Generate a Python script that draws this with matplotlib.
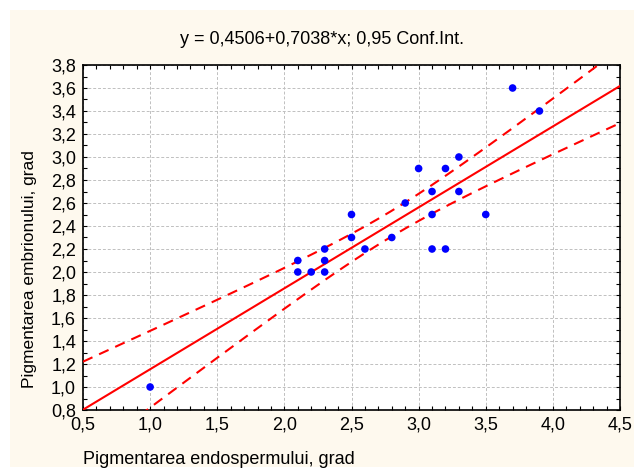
import matplotlib
matplotlib.use("Agg")
import matplotlib.pyplot as plt
import numpy as np
from matplotlib.ticker import MultipleLocator, FuncFormatter

plt.rcParams['font.family'] = ['Liberation Sans', 'DejaVu Sans']

# data
endosperm = np.array([1.0, 2.1, 2.1, 2.2, 2.3, 2.3, 2.3, 2.5, 2.5, 2.6, 2.8, 2.9,
                      3.0, 3.1, 3.1, 3.1, 3.2, 3.2, 3.3, 3.3, 3.5, 3.7, 3.9])
embryo = np.array([1.0, 2.1, 2.0, 2.0, 2.0, 2.1, 2.2, 2.3, 2.5, 2.2, 2.3, 2.6,
                   2.9, 2.7, 2.5, 2.2, 2.9, 2.2, 3.0, 2.7, 2.5, 3.6, 3.4])
intercept = 0.4506
slope = 0.7038
t_crit = 2.080  # t(0.975, df=21)

title = "y = 0,4506+0,7038*x; 0,95 Conf.Int."
xlabel = "Pigmentarea endospermului, grad"
ylabel = "Pigmentarea embrionului, grad"

W, H = 634, 470
fig = plt.figure(figsize=(W / 100, H / 100), dpi=100)
fig.patch.set_facecolor('white')
# cream panel behind everything
fig.patches.append(plt.Rectangle((10 / W, 3 / H), 1 - 10 / W, 1 - 13 / H,
                                 transform=fig.transFigure, facecolor='#fef9ee',
                                 edgecolor='none', zorder=-10))

ax = fig.add_axes([83 / W, 1 - 410 / H, (620 - 83) / W, (410 - 65) / H])
ax.set_facecolor('white')

# regression line and confidence band
n = len(endosperm)
resid = embryo - (intercept + slope * endosperm)
s = np.sqrt(np.sum(resid ** 2) / (n - 2))
xm = endosperm.mean()
sxx = np.sum((endosperm - xm) ** 2)
xs = np.linspace(0.5, 4.5, 200)
fit = intercept + slope * xs
half = t_crit * s * np.sqrt(1 / n + (xs - xm) ** 2 / sxx)

ax.plot(xs, fit, color='#ff0000', lw=1.5, zorder=3)
ax.plot(xs, fit + half, color='#ff0000', lw=1.5, ls=(0, (5, 3.5)), zorder=3)
ax.plot(xs, fit - half, color='#ff0000', lw=1.5, ls=(0, (5, 3.5)), zorder=3)

ax.scatter(endosperm, embryo, s=30, color='#0000ff', edgecolors='none', zorder=4,
           clip_on=False)

ax.set_xlim(0.5, 4.5)
ax.set_ylim(0.8, 3.8)
ax.xaxis.set_major_locator(MultipleLocator(0.5))
ax.xaxis.set_minor_locator(MultipleLocator(0.1))
ax.yaxis.set_major_locator(MultipleLocator(0.2))
ax.yaxis.set_minor_locator(MultipleLocator(0.1))
comma = FuncFormatter(lambda v, p: ("%.1f" % v).replace('.', ','))
ax.xaxis.set_major_formatter(comma)
ax.yaxis.set_major_formatter(comma)

ax.tick_params(which='both', direction='in', top=True, right=True,
               length=3, width=0.8, labelsize=13, colors='black', pad=5)
ax.grid(True, which='major', color='#c0c0c0', ls=(0, (3, 2)), lw=0.7)
ax.set_axisbelow(True)
for sp in ax.spines.values():
    sp.set_linewidth(1.2)
    sp.set_color('black')

fig.text(322 / W, 1 - 39 / H, title, ha='center', va='center', fontsize=13)
fig.text(83 / W, 1 - 460 / H, xlabel, ha='left', va='center', fontsize=13)
fig.text(30 / W, 1 - 269 / H, ylabel, ha='center', va='center', fontsize=12.5,
         rotation=90)

fig.savefig("out.png", dpi=100)
